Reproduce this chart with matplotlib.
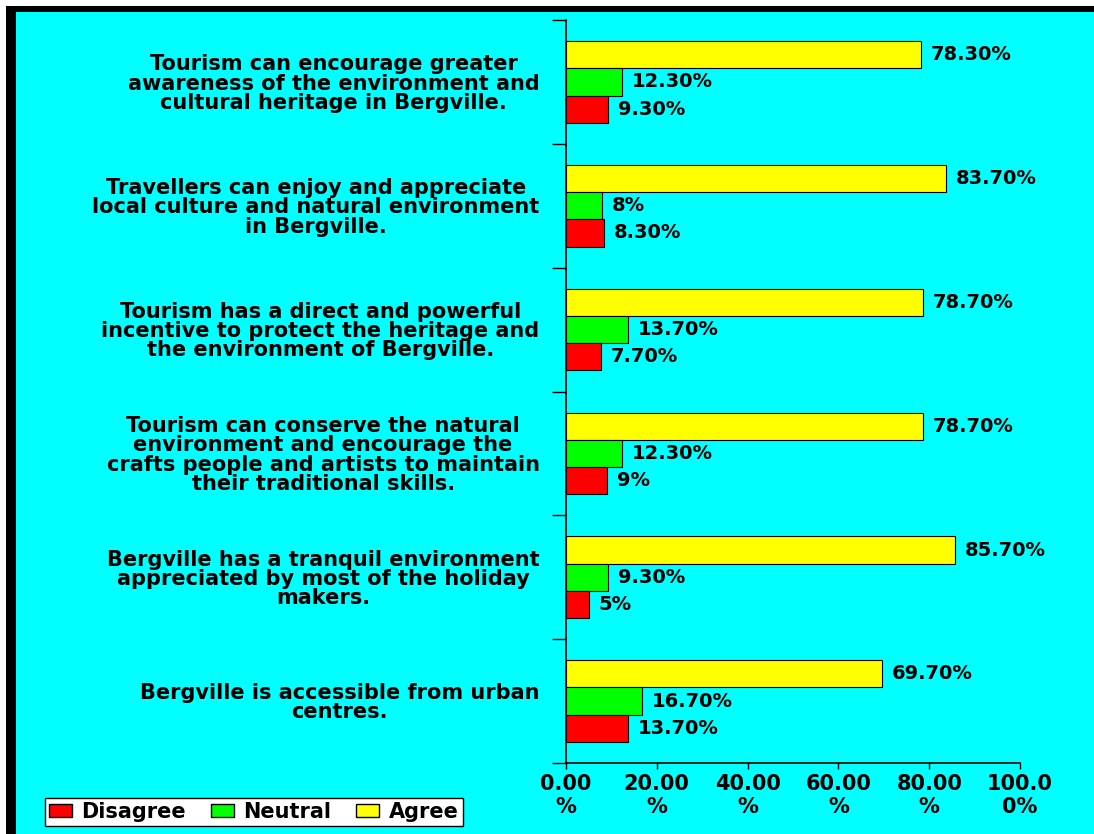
import numpy as np
import matplotlib.pyplot as plt
from matplotlib.patches import Rectangle, Patch

# Survey statements, top to bottom
statements = [
    "Tourism can encourage greater\nawareness of the environment and\ncultural heritage in Bergville.",
    "Travellers can enjoy and appreciate\nlocal culture and natural environment\nin Bergville.",
    "Tourism has a direct and powerful\nincentive to protect the heritage and\nthe environment of Bergville.",
    "Tourism can conserve the natural\nenvironment and encourage the\ncrafts people and artists to maintain\ntheir traditional skills.",
    "Bergville has a tranquil environment\nappreciated by most of the holiday\nmakers.",
    "Bergville is accessible from urban\ncentres.",
]
agree = [78.3, 83.7, 78.7, 78.7, 85.7, 69.7]
neutral = [12.3, 8.0, 13.7, 12.3, 9.3, 16.7]
disagree = [9.3, 8.3, 7.7, 9.0, 5.0, 13.7]

xticks = [0, 20, 40, 60, 80, 100]
xtick_labels = ["0.00\n%", "20.00\n%", "40.00\n%", "60.00\n%", "80.00\n%", "100.0\n0%"]

W, H = 1094, 834
fig = plt.figure(figsize=(W / 100, H / 100), dpi=100)
fig.patch.set_facecolor("white")
# black frame (top / left) and cyan panel
fig.patches.append(Rectangle((6 / W, 0), 1, (H - 6) / H, transform=fig.transFigure,
                             facecolor="black", edgecolor="none", zorder=-10))
fig.patches.append(Rectangle((16 / W, 0), 1, (H - 12) / H, transform=fig.transFigure,
                             facecolor="#00FFFF", edgecolor="none", zorder=-9))

ax = fig.add_axes([566 / W, (H - 763) / H, (1020 - 566) / W, (763 - 20) / H])
ax.set_facecolor("none")

val_font = dict(fontsize=14, fontweight="bold", family="DejaVu Sans")
lab_font = dict(fontsize=15, fontweight="bold", family="DejaVu Sans")

def fmt(v):
    if float(v).is_integer():
        return f"{int(v)}%"
    return f"{v:.2f}%"

centers = np.arange(len(statements))
h = 0.22
series = [(agree, -h, "#FFFF00"), (neutral, 0, "#00FF00"), (disagree, h, "#FF0000")]
for vals, off, col in series:
    ax.barh(centers + off, vals, height=h, color=col, edgecolor="black", linewidth=0.8)
    for y, v in zip(centers + off, vals):
        ax.annotate(fmt(v), (v, y), xytext=(7, 0), textcoords="offset points",
                    va="center", ha="left", **val_font)

ax.set_xlim(0, 100)
ax.set_ylim(len(statements) - 0.5, -0.5)

ax.set_yticks(centers)
ax.set_yticklabels(statements, multialignment="center", linespacing=0.95, **lab_font)
ax.tick_params(axis="y", which="major", length=0, pad=19)
ax.set_yticks(np.arange(len(statements) + 1) - 0.5, minor=True)
ax.tick_params(axis="y", which="minor", length=10, width=1, direction="out")

ax.set_xticks(xticks)
ax.set_xticklabels(xtick_labels, linespacing=1.15, **lab_font)
ax.tick_params(axis="x", length=4, width=1, direction="out", pad=4)

for s in ["top", "right"]:
    ax.spines[s].set_visible(False)
for s in ["left", "bottom"]:
    ax.spines[s].set_linewidth(1.2)

handles = [Patch(facecolor="#FF0000", edgecolor="black", label="Disagree"),
           Patch(facecolor="#00FF00", edgecolor="black", label="Neutral"),
           Patch(facecolor="#FFFF00", edgecolor="black", label="Agree")]
leg = fig.legend(handles=handles, loc="lower left", bbox_to_anchor=(45 / W, 8 / H),
                 ncol=3, frameon=True, fancybox=False, borderaxespad=0,
                 handlelength=1.1, handleheight=0.6, handletextpad=0.45,
                 columnspacing=1.2, borderpad=0.2,
                 prop=dict(size=15, weight="bold", family="DejaVu Sans"))
leg.get_frame().set_edgecolor("black")
leg.get_frame().set_linewidth(1.0)
leg.get_frame().set_facecolor("white")
leg.get_frame().set_alpha(1)

fig.savefig("out.png", dpi=100)
